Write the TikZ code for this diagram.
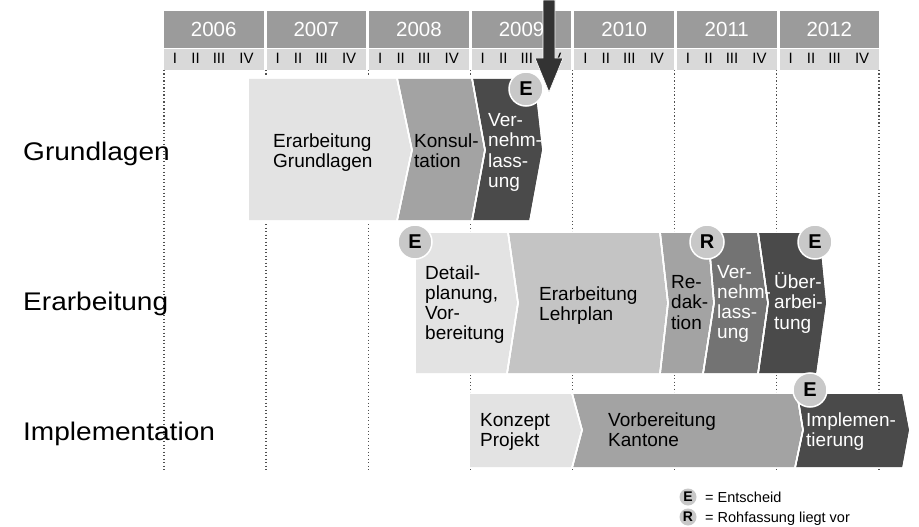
\documentclass[tikz,border=0pt]{standalone}
\usepackage{fontspec}
\setmainfont{Liberation Sans}
\usepackage{graphicx}
\definecolor{lightg}{HTML}{E3E3E3}
\definecolor{lehrg}{HTML}{C4C4C4}
\definecolor{midg}{HTML}{A3A3A3}
\definecolor{vernG}{HTML}{737373}
\definecolor{darkg}{HTML}{4A4A4A}
\definecolor{yearg}{HTML}{9B9B9B}
\definecolor{quartg}{HTML}{D9D9D9}
\definecolor{circg}{HTML}{C8C8C8}
\definecolor{arrowg}{HTML}{333333}
\definecolor{dotg}{HTML}{505050}
\newcommand\mlines[1]{\vtop{\baselineskip=20.3pt\lineskiplimit=-20pt #1}}
\begin{document}
\begin{tikzpicture}[x=1pt,y=-1pt,
  phase/.style={draw=white,line width=1.5pt,line join=miter},
  boxtext/.style={anchor=base west,inner sep=0pt,font=\fontsize{19}{20.3}\selectfont,text=black},
  boxtextw/.style={boxtext,text=white},
  mark circ/.style={circle,fill=circg,draw=white,line width=1.5pt,minimum size=34pt,inner sep=0pt,font=\fontsize{20}{20}\selectfont\bfseries},
  leg circ/.style={circle,fill=circg,minimum size=17pt,inner sep=0pt,font=\fontsize{14}{14}\selectfont\bfseries},
  rowlabel/.style={anchor=base west,inner sep=0pt,font=\fontsize{25.5}{26}\selectfont},
  yearbox/.style={fill=yearg},
  quartbox/.style={fill=quartg},
  yeartext/.style={anchor=base,inner sep=0pt,text=white,font=\fontsize{20.5}{21}\selectfont},
  qtext/.style={anchor=base,inner sep=0pt,font=\fontsize{15}{15}\selectfont},
  gridline/.style={dotg,line width=1.3pt,dash pattern=on 1.2pt off 2.3pt},
  legtext/.style={anchor=base west,inner sep=0pt,font=\fontsize{14.5}{15}\selectfont}
]
\useasboundingbox (0,0) rectangle (919,527);
\fill[white] (0,0) rectangle (919,527);

% dotted grid lines
\foreach \k in {0,...,7}{
  \coordinate (gt\k) at ({164+\k*102.14},70);
  \coordinate (gb\k) at ({164+\k*102.14},470);
  \draw[gridline] (gt\k) -- (gb\k);
}

% year header
\foreach \yr [count=\k from 0] in {2006,2007,2008,2009,2010,2011,2012}{
  \pgfmathsetmacro\xs{164+\k*102.6}
  \fill[yearbox] (\xs,11) rectangle ({\xs+99.5},47.7);
  \fill[quartbox] (\xs,49.3) rectangle ({\xs+99.5},70.5);
  \node[yeartext] (y\yr) at ({\xs+49.75},36.7) {\yr};
  \node[qtext] (q\yr a) at ({\xs+11},64) {I};
  \node[qtext] (q\yr b) at ({\xs+31.5},64) {II};
  \node[qtext] (q\yr c) at ({\xs+55},64) {III};
  \node[qtext] (q\yr d) at ({\xs+82.5},64) {IV};
}

% Grundlagen row
\fill[phase,fill=lightg] (248,78) -- (397,78) -- (412,150) -- (397,221) -- (248,221) -- cycle;
\fill[phase,fill=midg] (397,78) -- (472,78) -- (485,150) -- (472,221) -- (397,221) -- (412,150) -- cycle;
\fill[phase,fill=darkg] (472,78) -- (535,78) -- (543,150) -- (530,221) -- (472,221) -- (485,150) -- cycle;
\draw[phase] (248,78) -- (397,78) -- (412,150) -- (397,221) -- (248,221) -- cycle;
\draw[phase] (397,78) -- (472,78) -- (485,150) -- (472,221) -- (397,221) -- (412,150) -- cycle;
\draw[phase] (472,78) -- (535,78) -- (543,150) -- (530,221) -- (472,221) -- (485,150) -- cycle;

% Erarbeitung row
\fill[phase,fill=lightg] (415,232)--(508,232)--(518,303)--(507,374)--(415,374)--cycle;
\fill[phase,fill=lehrg] (508,232)--(660,232)--(668,303)--(660,374)--(507,374)--(518,303)--cycle;
\fill[phase,fill=midg] (660,232)--(708,232)--(714,303)--(703,374)--(660,374)--(668,303)--cycle;
\fill[phase,fill=vernG] (708,232)--(758,232)--(768,303)--(758,374)--(703,374)--(714,303)--cycle;
\fill[phase,fill=darkg] (758,232)--(820,232)--(827,303)--(817,374)--(758,374)--(768,303)--cycle;
\draw[phase] (415,232)--(508,232)--(518,303)--(507,374)--(415,374)--cycle;
\draw[phase] (508,232)--(660,232)--(668,303)--(660,374)--(507,374)--(518,303)--cycle;
\draw[phase] (660,232)--(708,232)--(714,303)--(703,374)--(660,374)--(668,303)--cycle;
\draw[phase] (708,232)--(758,232)--(768,303)--(758,374)--(703,374)--(714,303)--cycle;
\draw[phase] (758,232)--(820,232)--(827,303)--(817,374)--(758,374)--(768,303)--cycle;

% Implementation row
\fill[phase,fill=lightg] (469,393)--(572,393)--(582,430)--(572,468)--(469,468)--cycle;
\fill[phase,fill=midg] (572,393)--(797,393)--(803,430)--(795,468)--(572,468)--(582,430)--cycle;
\fill[phase,fill=darkg] (797,393)--(903,393)--(910,430)--(903,468)--(795,468)--(803,430)--cycle;
\draw[phase] (469,393)--(572,393)--(582,430)--(572,468)--(469,468)--cycle;
\draw[phase] (572,393)--(797,393)--(803,430)--(795,468)--(572,468)--(582,430)--cycle;
\draw[phase] (797,393)--(903,393)--(910,430)--(903,468)--(795,468)--(803,430)--cycle;

% texts in phases
\node[boxtext] (t1) at (273,147) {\mlines{\hbox{Erarbeitung}\hbox{Grundlagen}}};
\node[boxtext] (t2) at (414,147) {\mlines{\hbox{Konsul-}\hbox{tation}}};
\node[boxtextw] (t3) at (488,126.5) {\mlines{\hbox{Ver-}\hbox{nehm-}\hbox{lass-}\hbox{ung}}};

\node[boxtext] (t4) at (425,279) {\mlines{\hbox{Detail-}\hbox{planung,}\hbox{Vor-}\hbox{bereitung}}};
\node[boxtext] (t5) at (539,300) {\mlines{\hbox{Erarbeitung}\hbox{Lehrplan}}};
\node[boxtext] (t6) at (671,288.5) {\mlines{\hbox{Re-}\hbox{dak-}\hbox{tion}}};
\node[boxtextw] (t7) at (717,278) {\mlines{\hbox{Ver-}\hbox{nehm-}\hbox{lass-}\hbox{ung}}};
\node[boxtextw] (t8) at (774,288.5) {\mlines{\hbox{Über-}\hbox{arbei-}\hbox{tung}}};

\node[boxtext] (t9) at (480,426) {\mlines{\hbox{Konzept}\hbox{Projekt}}};
\node[boxtext] (t10) at (608,426) {\mlines{\hbox{Vorbereitung}\hbox{Kantone}}};
\node[boxtextw] (t11) at (806,426) {\mlines{\hbox{Implemen-}\hbox{tierung}}};

% decision circles
\node[mark circ] (e1) at (526,89) {E};
\node[mark circ] (e2) at (415,242) {E};
\node[mark circ] (r1) at (707,242) {R};
\node[mark circ] (e3) at (815,242) {E};
\node[mark circ] (e4) at (810,390) {E};

% big arrow
\coordinate (a1) at (543,0);
\coordinate (a2) at (555,0);
\coordinate (tip) at (549,92);
\fill[arrowg,draw=white,line width=0.6pt] (a1) -- (a2) -- (555,58) -- (563,58) -- (tip) -- (535,58) -- (543,58) -- cycle;

% row labels
\node[rowlabel] (lg) at (23,160) {\scalebox{1.1}[1]{Grundlagen}};
\node[rowlabel] (le) at (23,310) {\scalebox{1.1}[1]{Erarbeitung}};
\node[rowlabel] (li) at (23,440) {\scalebox{1.1}[1]{Implementation}};

% legend
\node[leg circ] (le1) at (688,497) {E};
\node[leg circ] (le2) at (688,517) {R};
\node[legtext] (lt1) at (705,502.5) {= Entscheid};
\node[legtext] (lt2) at (705,522.5) {= Rohfassung liegt vor};
\end{tikzpicture}
\end{document}
